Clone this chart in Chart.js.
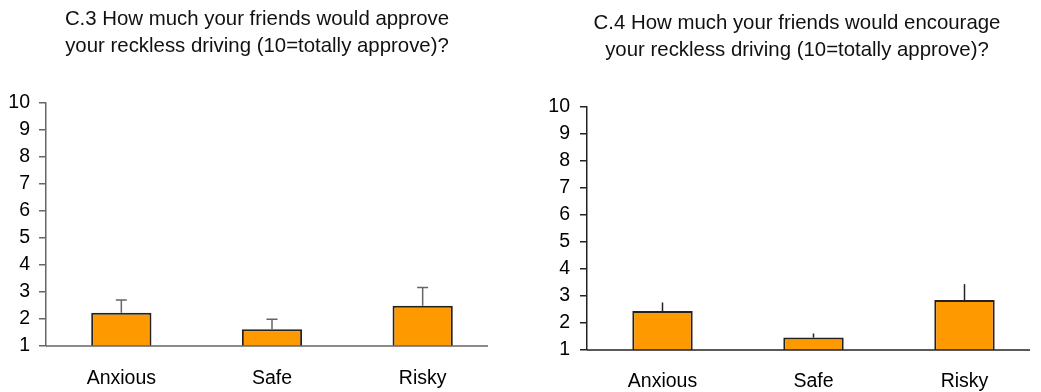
<!DOCTYPE html>
<html>
<head>
<meta charset="utf-8">
<script src="https://cdn.jsdelivr.net/npm/chart.js@4"></script>
<style>
html, body { margin: 0; padding: 0; background: #fff; }
#wrap { position: relative; width: 1041px; height: 392px; overflow: hidden; }
.box { position: absolute; top: 0; height: 392px; }
.title {
    position: absolute; width: 600px; text-align: center;
    font-family: 'Liberation Sans', Arial, sans-serif; font-size: 20.4px;
    line-height: 26.5px; color: #111; white-space: nowrap;
}
</style>
</head>
<body>
<div id="wrap">
  <div class="box" style="left:0;width:520px"><canvas id="chart-c3"></canvas></div>
  <div class="box" style="left:520px;width:521px"><canvas id="chart-c4"></canvas></div>
  <div class="title" id="title-c3" style="left:-43px;top:5px"></div>
  <div class="title" id="title-c4" style="left:497px;top:9px"></div>
</div>
<script>
'use strict';

// Data
const groups = ['Anxious', 'Safe', 'Risky'];
const approveMeans = [2.23, 1.62, 2.49];      // C.3
const approveErrors = [0.47, 0.37, 0.68];
const encourageMeans = [2.44, 1.46, 2.85];    // C.4
const encourageErrors = [0.32, 0.15, 0.59];
const yMin = 1;
const yMax = 10;
const approveTitle = ['C.3 How much your friends would approve', 'your reckless driving (10=totally approve)?'];
const encourageTitle = ['C.4 How much your friends would encourage', 'your reckless driving (10=totally approve)?'];

const FONT = "'Liberation Sans', Arial, sans-serif";
const BAR_COLOR = '#FF9900';

function setTitle(id, lines) {
    const el = document.getElementById(id);
    lines.forEach((line, i) => {
        if (i > 0) el.appendChild(document.createElement('br'));
        el.appendChild(document.createTextNode(line));
    });
}

// draws error bars and the shortened x axis line
const errorBarsPlugin = {
    id: 'errorBars',
    afterDatasetsDraw(chart, args, opts) {
        const ctx = chart.ctx;
        const area = chart.chartArea;
        const yScale = chart.scales.y;
        const meta = chart.getDatasetMeta(0);
        const values = chart.data.datasets[0].data;

        ctx.save();
        ctx.strokeStyle = opts.color;
        ctx.lineWidth = 1.5;
        meta.data.forEach((bar, i) => {
            const yTop = yScale.getPixelForValue(values[i] + opts.errors[i]);
            ctx.beginPath();
            ctx.moveTo(bar.x, bar.y);
            ctx.lineTo(bar.x, yTop);
            if (opts.cap) {
                ctx.moveTo(bar.x - opts.cap / 2, yTop);
                ctx.lineTo(bar.x + opts.cap / 2, yTop);
            }
            ctx.stroke();
        });

        ctx.strokeStyle = opts.axisColor;
        ctx.lineWidth = 1.5;
        ctx.beginPath();
        ctx.moveTo(area.left, area.bottom);
        ctx.lineTo(area.right - opts.axisTrim, area.bottom);
        ctx.stroke();
        ctx.restore();
    }
};

function makeChart(canvasId, means, errors, cfg) {
    const ctx = document.getElementById(canvasId).getContext('2d');
    return new Chart(ctx, {
        type: 'bar',
        data: {
            labels: groups,
            datasets: [{
                data: means,
                backgroundColor: BAR_COLOR,
                borderColor: '#222',
                borderWidth: 2,
                borderSkipped: false,
                categoryPercentage: 1,
                barPercentage: 0.4
            }]
        },
        options: {
            responsive: true,
            maintainAspectRatio: false,
            animation: false,
            events: [],
            layout: {
                padding: { left: 0, right: cfg.padRight, top: cfg.padTop, bottom: 0 }
            },
            plugins: {
                legend: { display: false },
                tooltip: { enabled: false },
                title: { display: false },
                errorBars: {
                    errors: errors,
                    cap: cfg.cap,
                    color: cfg.axisColor,
                    axisColor: cfg.axisColor,
                    axisTrim: 10
                }
            },
            scales: {
                x: {
                    grid: { display: false },
                    border: { display: false },
                    ticks: {
                        color: '#000',
                        padding: cfg.xPad,
                        font: { family: FONT, size: 19.5 }
                    },
                    afterFit: (scale) => { scale.height = cfg.xHeight; }
                },
                y: {
                    min: yMin,
                    max: yMax,
                    grid: {
                        drawOnChartArea: false,
                        drawTicks: true,
                        tickLength: 7,
                        color: cfg.axisColor,
                        lineWidth: 1.5
                    },
                    border: { display: true, color: cfg.axisColor, width: 1.5 },
                    ticks: {
                        stepSize: 1,
                        color: '#000',
                        padding: cfg.yPad,
                        font: { family: FONT, size: 19.5 }
                    },
                    afterFit: (scale) => { scale.width = cfg.yWidth; }
                }
            }
        },
        plugins: [errorBarsPlugin]
    });
}

setTitle('title-c3', approveTitle);
setTitle('title-c4', encourageTitle);

makeChart('chart-c3', approveMeans, approveErrors, {
    padRight: 22, padTop: 103, yWidth: 46, yPad: 9,
    xHeight: 46, xPad: 13, cap: 11, axisColor: '#666'
});

makeChart('chart-c4', encourageMeans, encourageErrors, {
    padRight: 1, padTop: 107, yWidth: 67, yPad: 10,
    xHeight: 42, xPad: 12, cap: 0, axisColor: '#222'
});
</script>
</body>
</html>
